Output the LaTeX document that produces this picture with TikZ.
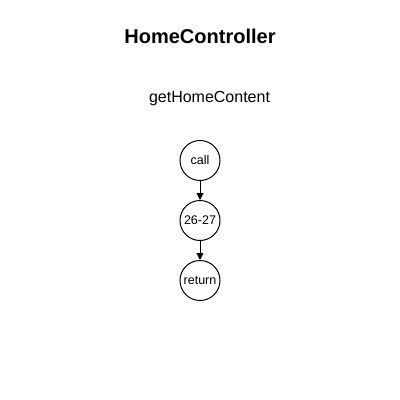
\documentclass[tikz,border=0pt]{standalone}
\usepackage{fontspec}
\setmainfont{Liberation Sans}
\usetikzlibrary{arrows.meta}
\begin{document}
\begin{tikzpicture}[x=1pt,y=-1pt,
  state/.style={circle,draw=black,line width=1pt,minimum size=40pt,inner sep=0pt,font=\fontsize{12.5}{15}\selectfont},
  flow/.style={draw=black,line width=1pt,-{Triangle[length=7pt,width=7pt]}}]
\useasboundingbox[fill=white] (0,0) rectangle (400,400);
\node[anchor=base,font=\bfseries\fontsize{20}{24}\selectfont] (title) at (200,43) {HomeController};
\node[anchor=base,font=\fontsize{16}{19}\selectfont] (method) at (209.5,102) {getHomeContent};
\node[state] (call) at (200,160.5) {call};
\node[state] (mid) at (200,220.5) {26-27};
\node[state] (ret) at (200,280.5) {return};
\draw[flow] (call) -- (mid);
\draw[flow] (mid) -- (ret);
\end{tikzpicture}
\end{document}
